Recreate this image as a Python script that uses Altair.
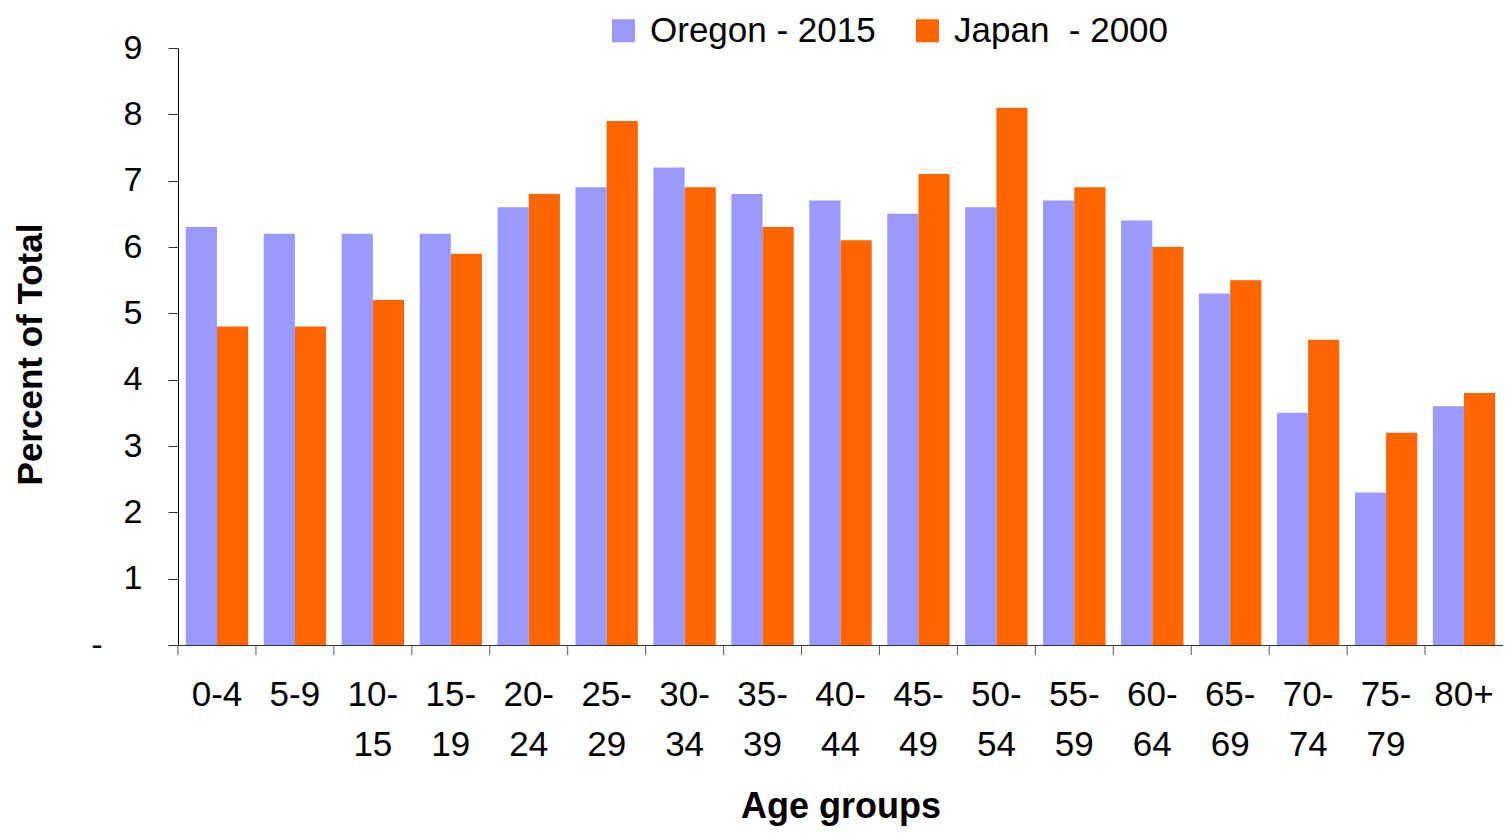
import altair as alt
import pandas as pd

ages = ["0-4", "5-9", "10-15", "15-19", "20-24", "25-29", "30-34", "35-39", "40-44",
        "45-49", "50-54", "55-59", "60-64", "65-69", "70-74", "75-79", "80+"]
oregon = [6.3, 6.2, 6.2, 6.2, 6.6, 6.9, 7.2, 6.8, 6.7, 6.5, 6.6, 6.7, 6.4, 5.3, 3.5, 2.3, 3.6]
japan = [4.8, 4.8, 5.2, 5.9, 6.8, 7.9, 6.9, 6.3, 6.1, 7.1, 8.1, 6.9, 6.0, 5.5, 4.6, 3.2, 3.8]
series_names = ["Oregon - 2015", "Japan\u00a0 - 2000"]
colors = ["#9999FF", "#FF6600"]

rows = []
for a, o, j in zip(ages, oregon, japan):
    rows.append({"age": a, "series": series_names[0], "value": o})
    rows.append({"age": a, "series": series_names[1], "value": j})
df = pd.DataFrame(rows)
ticks_df = pd.DataFrame({"age": ages})

FONT = "Liberation Sans"
W, H = 1325, 597
PAD_INNER, PAD_OUTER = 0.2, 0.1
STEP = W / (len(ages) - PAD_INNER + 2 * PAD_OUTER)

x_label_expr = (
    "datum.value == '0-4' || datum.value == '5-9' || datum.value == '80+' ? datum.value : "
    "[slice(datum.value, 0, indexof(datum.value, '-') + 1), slice(datum.value, indexof(datum.value, '-') + 1)]"
)
y_label_expr = "datum.value == 0 ? '-' : datum.label"

x_scale = alt.Scale(paddingInner=PAD_INNER, paddingOuter=PAD_OUTER)

bars = alt.Chart(df).mark_bar().encode(
    x=alt.X(
        "age:N",
        sort=ages,
        scale=x_scale,
        axis=alt.Axis(
            title="Age groups",
            labelAngle=0,
            labelExpr=x_label_expr,
            labelFont=FONT,
            labelFontSize=35,
            labelColor="black",
            labelLineHeight=50,
            labelPadding=32,
            ticks=False,
            domainColor="#333333",
            titleFont=FONT,
            titleFontSize=36,
            titleFontWeight="bold",
            titleColor="black",
            titlePadding=27,
        ),
    ),
    xOffset=alt.XOffset("series:N", sort=series_names,
                        scale=alt.Scale(paddingInner=0, paddingOuter=0)),
    y=alt.Y(
        "value:Q",
        scale=alt.Scale(domain=[0, 9], nice=False),
        axis=alt.Axis(
            title="Percent of Total",
            values=list(range(0, 10)),
            grid=False,
            labelExpr=y_label_expr,
            labelFont=FONT,
            labelFontSize=34,
            labelColor="black",
            labelPadding={"condition": {"test": "datum.value === 0", "value": 66}, "value": 26},
            tickSize=10,
            tickColor="#333333",
            domainColor="black",
            titleFont=FONT,
            titleFontSize=35,
            titleFontWeight="bold",
            titleColor="black",
            titleX=-148,
            titleY=306,
            titleAlign="center",
            titleBaseline="middle",
        ),
    ),
    color=alt.Color(
        "series:N",
        sort=series_names,
        scale=alt.Scale(domain=series_names, range=colors),
        legend=alt.Legend(
            title=None,
            orient="none",
            direction="horizontal",
            legendX=428,
            legendY=-35,
            symbolType="square",
            symbolSize=530,
            symbolStrokeWidth=0,
            symbolOpacity=1,
            labelFont=FONT,
            labelFontSize=35,
            labelColor="black",
            labelOffset=9,
            labelLimit=600,
            columnPadding=34,
        ),
    ),
)

group_ticks = alt.Chart(ticks_df).mark_rule(
    color="#555555", strokeWidth=1, xOffset=-PAD_OUTER * STEP
).encode(
    x=alt.X("age:N", sort=ages, scale=x_scale, bandPosition=0),
    y=alt.value(H),
    y2=alt.value(H + 10),
)

chart = alt.layer(bars, group_ticks).properties(
    width=W,
    height=H,
    background="white",
    autosize=alt.AutoSizeParams(type="none"),
    padding={"left": 170, "top": 40, "right": 0, "bottom": 181},
).configure_view(
    stroke=None
)

chart.save("out.html", embed_options={"renderer": "svg", "actions": False})
